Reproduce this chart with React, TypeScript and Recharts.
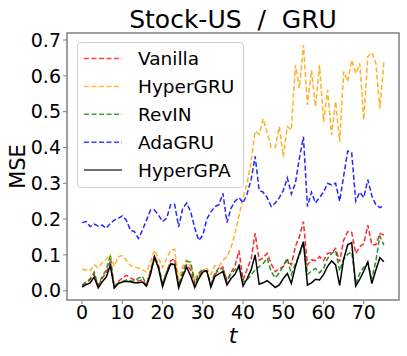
import { LineChart, Line, XAxis, YAxis } from 'recharts'

const FONT = '"DejaVu Sans", sans-serif'
const SPINE = '#808080'

// MSE per time step t = 0..75
const vanilla = [
  0.014, 0.021, 0.03, 0.045, 0.012, 0.035, 0.05, 0.082, 0.01, 0.026,
  0.036, 0.043, 0.036, 0.03, 0.027, 0.03, 0.015, 0.058, 0.098, 0.07,
  0.016, 0.052, 0.083, 0.09, 0.012, 0.045, 0.072, 0.058, 0.015, 0.04,
  0.058, 0.055, 0.015, 0.045, 0.058, 0.066, 0.024, 0.05, 0.07, 0.112,
  0.03, 0.06, 0.088, 0.16, 0.085, 0.092, 0.104, 0.075, 0.053, 0.062,
  0.067, 0.086, 0.072, 0.123, 0.151, 0.193, 0.072, 0.086, 0.084, 0.095,
  0.084, 0.104, 0.106, 0.118, 0.081, 0.141, 0.165, 0.163, 0.104, 0.123,
  0.132, 0.183, 0.128, 0.128, 0.16, 0.155,
]

const hyperGRU = [
  0.06, 0.058, 0.056, 0.072, 0.064, 0.078, 0.087, 0.1, 0.068, 0.095,
  0.098, 0.085, 0.07, 0.067, 0.063, 0.058, 0.052, 0.08, 0.113, 0.09,
  0.065, 0.09, 0.112, 0.116, 0.03, 0.068, 0.086, 0.068, 0.035, 0.05,
  0.058, 0.062, 0.045, 0.07, 0.068, 0.085, 0.095, 0.12, 0.16, 0.21,
  0.26, 0.3, 0.36, 0.445, 0.437, 0.48, 0.44, 0.4, 0.4, 0.458,
  0.374, 0.458, 0.449, 0.63, 0.565, 0.686, 0.519, 0.616, 0.514, 0.63,
  0.472, 0.56, 0.435, 0.528, 0.416, 0.612, 0.584, 0.644, 0.607, 0.635,
  0.477, 0.654, 0.665, 0.635, 0.509, 0.64,
]

const revIN = [
  0.015, 0.025, 0.033, 0.052, 0.014, 0.04, 0.058, 0.097, 0.012, 0.022,
  0.026, 0.03, 0.028, 0.026, 0.035, 0.04, 0.016, 0.052, 0.09, 0.068,
  0.02, 0.052, 0.076, 0.074, 0.015, 0.052, 0.082, 0.08, 0.02, 0.048,
  0.06, 0.052, 0.018, 0.05, 0.063, 0.06, 0.03, 0.048, 0.058, 0.07,
  0.025, 0.03, 0.044, 0.058, 0.067, 0.076, 0.091, 0.053, 0.036, 0.05,
  0.07, 0.09, 0.045, 0.075, 0.097, 0.135, 0.045, 0.055, 0.062, 0.05,
  0.062, 0.09, 0.104, 0.112, 0.055, 0.088, 0.102, 0.108, 0.02, 0.048,
  0.066, 0.078, 0.034, 0.083, 0.152, 0.127,
]

const adaGRU = [
  0.19, 0.193, 0.179, 0.186, 0.181, 0.183, 0.174, 0.188, 0.197, 0.202,
  0.209, 0.197, 0.169, 0.165, 0.146, 0.169, 0.197, 0.225, 0.225, 0.211,
  0.193, 0.202, 0.24, 0.241, 0.178, 0.23, 0.245, 0.22, 0.175, 0.14,
  0.155, 0.2, 0.22, 0.235, 0.24, 0.272, 0.19, 0.23, 0.25, 0.26,
  0.245, 0.27, 0.31, 0.375, 0.28, 0.275, 0.26, 0.235, 0.245, 0.26,
  0.28, 0.315, 0.27, 0.3, 0.37, 0.43, 0.235, 0.275, 0.245, 0.26,
  0.275, 0.3, 0.295, 0.3, 0.25, 0.32, 0.39, 0.385, 0.25, 0.275,
  0.26, 0.31, 0.265, 0.24, 0.232, 0.238,
]

const hyperGPA = [
  0.01, 0.017, 0.022, 0.038, 0.008, 0.025, 0.038, 0.07, 0.007, 0.02,
  0.024, 0.026, 0.025, 0.022, 0.022, 0.024, 0.013, 0.045, 0.095, 0.062,
  0.011, 0.045, 0.074, 0.073, 0.008, 0.04, 0.066, 0.04, 0.009, 0.034,
  0.052, 0.056, 0.01, 0.04, 0.047, 0.053, 0.016, 0.034, 0.046, 0.07,
  0.013, 0.034, 0.058, 0.1, 0.018, 0.022, 0.028, 0.019, 0.009, 0.016,
  0.034, 0.048, 0.02, 0.067, 0.104, 0.137, 0.016, 0.022, 0.032, 0.03,
  0.045, 0.068, 0.083, 0.072, 0.015, 0.088, 0.128, 0.134, 0.013, 0.032,
  0.055, 0.08, 0.02, 0.058, 0.092, 0.081,
]

const xTicks = [0, 10, 20, 30, 40, 50, 60, 70]
const yTicks = [0, 0.1, 0.2, 0.3, 0.4, 0.5, 0.6, 0.7]

const series = [
  { key: 'vanilla', name: 'Vanilla', color: '#ff0000', dash: '5 2.5' },
  { key: 'hyperGRU', name: 'HyperGRU', color: '#ffa500', dash: '5 2.5' },
  { key: 'revIN', name: 'RevIN', color: '#008000', dash: '5 2.5' },
  { key: 'adaGRU', name: 'AdaGRU', color: '#0000ff', dash: '5 2.5' },
  { key: 'hyperGPA', name: 'HyperGPA', color: '#000000', dash: undefined },
]

const data = vanilla.map((v, i) => ({
  t: i,
  vanilla: v,
  hyperGRU: hyperGRU[i],
  revIN: revIN[i],
  adaGRU: adaGRU[i],
  hyperGPA: hyperGPA[i],
}))

// plot box (matches margins / axis sizes below)
const PLOT = { left: 67, top: 33, right: 399, bottom: 300 }

// matplotlib-style legend box, drawn over the plot
function LegendBox() {
  return (
    <div
      style={{
        position: 'absolute',
        left: 77,
        top: 42,
        width: 167,
        height: 146,
        boxSizing: 'border-box',
        border: '1px solid #d0d0d0',
        borderRadius: 4,
        background: 'rgba(255,255,255,0.8)',
      }}
    >
      <svg width={167} height={146} style={{ position: 'absolute', left: -1, top: -1 }}>
        {series.map((s, i) => {
          const cy = 16.5 + i * 27.9
          return (
            <g key={s.key}>
              <line
                x1={7}
                x2={45}
                y1={cy}
                y2={cy}
                stroke={s.color}
                strokeOpacity={0.75}
                strokeWidth={1.5}
                strokeDasharray={s.dash}
              />
              <text x={61} y={cy + 6.7} fontSize={18.5} fontFamily={FONT} fill="#000">
                {s.name}
              </text>
            </g>
          )
        })}
      </svg>
    </div>
  )
}

export default function App() {
  return (
    <div style={{ position: 'absolute', left: 0, top: 0, width: 407, height: 356, background: '#fff' }}>
      <LineChart
        width={407}
        height={356}
        data={data}
        margin={{ top: PLOT.top, right: 407 - PLOT.right, bottom: 0, left: 0 }}
      >
        <XAxis
          dataKey="t"
          type="number"
          domain={[-3.75, 78.75]}
          ticks={xTicks}
          allowDataOverflow
          tick={{ fill: '#000', fontSize: 19, fontFamily: FONT }}
          tickSize={4}
          tickMargin={2}
          tickLine={{ stroke: SPINE }}
          axisLine={false}
          height={356 - PLOT.bottom}
        />
        <YAxis
          type="number"
          domain={[-0.026, 0.7196]}
          ticks={yTicks}
          allowDataOverflow
          tickFormatter={(v: number) => v.toFixed(1)}
          tick={{ fill: '#000', fontSize: 19, fontFamily: FONT }}
          tickSize={4}
          tickMargin={2}
          tickLine={{ stroke: SPINE }}
          axisLine={false}
          width={PLOT.left}
        />
        {series.map((s) => (
          <Line
            key={s.key}
            type="linear"
            dataKey={s.key}
            name={s.name}
            stroke={s.color}
            strokeOpacity={s.dash ? 0.85 : 1}
            strokeWidth={1.5}
            strokeDasharray={s.dash}
            dot={false}
            activeDot={false}
            isAnimationActive={false}
          />
        ))}
      </LineChart>
      <LegendBox />
      <svg
        width={407}
        height={356}
        style={{ position: 'absolute', left: 0, top: 0, pointerEvents: 'none' }}
      >
        <rect
          x={PLOT.left}
          y={PLOT.top}
          width={PLOT.right - PLOT.left}
          height={PLOT.bottom - PLOT.top}
          fill="none"
          stroke={SPINE}
          strokeWidth={1.5}
        />
        <text
          x={233}
          y={28}
          textAnchor="middle"
          fontSize={25}
          fontFamily={FONT}
          fill="#000"
          style={{ whiteSpace: 'pre' }}
        >
          {'Stock-US  /  GRU'}
        </text>
        <text
          x={25}
          y={166.5}
          textAnchor="middle"
          fontSize={21}
          fontFamily={FONT}
          fill="#000"
          transform="rotate(-90 25 166.5)"
        >
          MSE
        </text>
        <text
          x={233}
          y={343}
          textAnchor="middle"
          fontSize={22}
          fontStyle="italic"
          fontFamily={FONT}
          fill="#000"
        >
          t
        </text>
      </svg>
    </div>
  )
}
